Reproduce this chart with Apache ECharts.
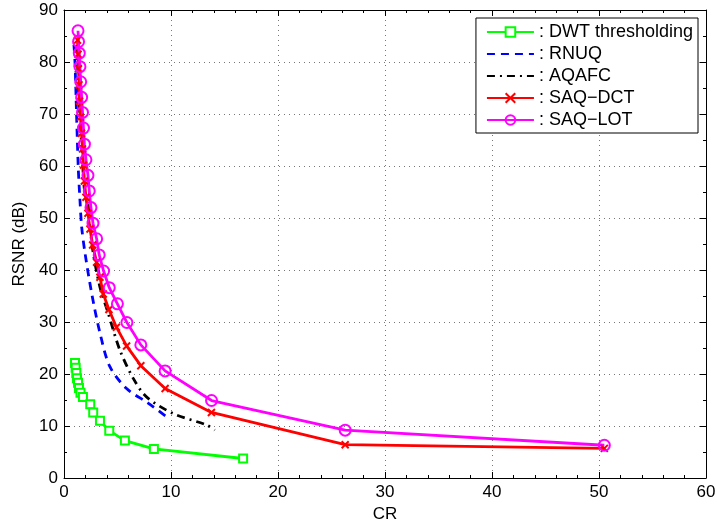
<!DOCTYPE html>
<html><head><meta charset="utf-8">
<script src="https://cdn.jsdelivr.net/npm/echarts@6/dist/echarts.min.js"></script>
<style>html,body{margin:0;padding:0;background:#fff}#c{width:717px;height:523px}</style>
</head><body><div id="c"></div>
<script>
var xTicks = [0, 10, 20, 30, 40, 50, 60];
var yTicks = [0, 10, 20, 30, 40, 50, 60, 70, 80, 90];
var seriesNames = [': DWT thresholding', ': RNUQ', ': AQAFC', ': SAQ\u2212DCT', ': SAQ\u2212LOT'];

var dwtX = [1.03, 1.09, 1.15, 1.21, 1.31, 1.40, 1.54, 1.77, 2.45, 2.73, 3.36, 4.23, 5.69, 8.40, 16.74];
var dwtY = [22.1, 21.2, 20.2, 19.2, 18.3, 17.3, 16.4, 15.6, 14.2, 12.6, 11.0, 9.1, 7.2, 5.6, 3.75];

var rnuqX = [0.93, 1.03, 1.17, 1.33, 1.49, 1.65, 1.96, 2.58, 3.36, 4.29, 5.85, 7.86, 9.58];
var rnuqY = [83.3, 79.8, 70.2, 59.8, 53.5, 48.3, 43.3, 35.6, 27.9, 21.4, 17.2, 14.4, 11.8];

var aqafcX = [1.21, 1.40, 1.68, 1.91, 2.27, 2.43, 2.73, 3.36, 4.13, 5.22, 6.46, 7.71, 10.2, 13.31, 14.09];
var aqafcY = [83.3, 72.7, 63.1, 55.4, 52.1, 48.3, 43.3, 36.7, 31.7, 24.6, 19.2, 15.6, 12.4, 10.2, 9.2];

var dctX = [1.26, 1.31, 1.35, 1.40, 1.45, 1.54, 1.63, 1.73, 1.82, 1.91, 2.05, 2.24, 2.43, 2.68, 3.05, 3.36, 3.67, 4.20, 4.90, 5.85, 7.18, 9.45, 13.78, 26.28, 50.5];
var dctY = [84.2, 81.5, 78.7, 75.6, 72.5, 69.4, 66.3, 63.3, 60.2, 57.1, 54.0, 50.9, 47.9, 44.8, 41.5, 38.6, 35.4, 32.4, 29.0, 25.4, 21.6, 17.2, 12.6, 6.4, 5.7];

var lotX = [1.31, 1.36, 1.43, 1.49, 1.56, 1.65, 1.73, 1.82, 1.91, 2.05, 2.24, 2.36, 2.52, 2.71, 3.05, 3.29, 3.70, 4.23, 4.99, 5.88, 7.18, 9.45, 13.79, 26.28, 50.5];
var lotY = [86.0, 83.9, 81.7, 79.1, 76.2, 73.2, 70.3, 67.3, 64.2, 61.2, 58.2, 55.2, 52.0, 49.0, 46.0, 42.9, 39.8, 36.6, 33.5, 29.9, 25.6, 20.6, 14.9, 9.2, 6.3];

function pairs(xs, ys) { return xs.map(function (x, i) { return [x, ys[i]]; }); }

var font = 'Liberation Sans, Arial, Helvetica, sans-serif';
var gridLine = { show: true, lineStyle: { color: '#777', width: 1, type: [1, 4] } };
var axFont = 17;

var chart = echarts.init(document.getElementById('c'), null, { renderer: 'canvas' });
chart.setOption({
  animation: false,
  backgroundColor: '#fff',
  grid: { left: 64, right: 11, top: 10, bottom: 45, show: false, containLabel: false, outerBoundsMode: 'none' },
  legend: {
    right: 19, top: 18, orient: 'vertical', align: 'left',
    backgroundColor: '#fff', borderColor: '#000', borderWidth: 1, borderRadius: 0,
    padding: [5, 5, 4, 10], itemGap: 4, itemWidth: 47, itemHeight: 12,
    textStyle: { fontFamily: font, fontSize: 18, color: '#000' },
    data: seriesNames
  },
  xAxis: [{
    type: 'value', min: 0, max: 60, interval: 10, position: 'bottom',
    name: 'CR', nameLocation: 'middle', nameGap: 25,
    nameTextStyle: { fontFamily: font, fontSize: axFont, color: '#000' },
    axisLine: { show: true, onZero: false, lineStyle: { color: '#000', width: 1 } },
    axisTick: { show: true, inside: true, length: 6, lineStyle: { color: '#000' } },
    minorTick: { show: true, splitNumber: 5, length: 3, lineStyle: { color: '#000' } },
    axisLabel: { fontFamily: font, fontSize: axFont, color: '#000', margin: 6,
      formatter: function (v) { return xTicks.indexOf(v) >= 0 ? String(v) : ''; } },
    splitLine: gridLine
  }, {
    type: 'value', min: 0, max: 60, interval: 10, position: 'top',
    axisLine: { show: true, onZero: false, lineStyle: { color: '#000', width: 1 } },
    axisTick: { show: true, inside: true, length: 6, lineStyle: { color: '#000' } },
    minorTick: { show: true, splitNumber: 5, length: 3, lineStyle: { color: '#000' } },
    axisLabel: { show: false }, splitLine: { show: false }
  }],
  yAxis: [{
    type: 'value', min: 0, max: 90, interval: 10, position: 'left',
    name: 'RSNR (dB)', nameLocation: 'middle', nameGap: 31, nameRotate: 90,
    nameTextStyle: { fontFamily: font, fontSize: axFont, color: '#000' },
    axisLine: { show: true, onZero: false, lineStyle: { color: '#000', width: 1 } },
    axisTick: { show: true, inside: true, length: 6, lineStyle: { color: '#000' } },
    minorTick: { show: true, splitNumber: 2, length: 3, lineStyle: { color: '#000' } },
    axisLabel: { fontFamily: font, fontSize: axFont, color: '#000', margin: 6,
      formatter: function (v) { return yTicks.indexOf(v) >= 0 ? String(v) : ''; } },
    splitLine: gridLine
  }, {
    type: 'value', min: 0, max: 90, interval: 10, position: 'right',
    axisLine: { show: true, onZero: false, lineStyle: { color: '#000', width: 1 } },
    axisTick: { show: true, inside: true, length: 6, lineStyle: { color: '#000' } },
    minorTick: { show: true, splitNumber: 2, length: 3, lineStyle: { color: '#000' } },
    axisLabel: { show: false }, splitLine: { show: false }
  }],
  series: [{
    name: seriesNames[0], type: 'line', data: pairs(dwtX, dwtY),
    symbol: 'rect', symbolSize: 8,
    lineStyle: { color: '#00ff00', width: 2.8 },
    itemStyle: { color: '#ffffff', borderColor: '#00ff00', borderWidth: 2 }
  }, {
    name: seriesNames[1], type: 'line', data: pairs(rnuqX, rnuqY), smooth: 0.3,
    symbol: 'none', showSymbol: false,
    lineStyle: { color: '#0000ff', width: 2.8, type: [8, 6] },
    itemStyle: { color: 'rgba(0,0,255,0)', opacity: 0 }
  }, {
    name: seriesNames[2], type: 'line', data: pairs(aqafcX, aqafcY), smooth: 0.3,
    symbol: 'none', showSymbol: false,
    lineStyle: { color: '#000000', width: 2.8, type: [8, 5, 2, 5] },
    itemStyle: { color: 'rgba(0,0,0,0)', opacity: 0 }
  }, {
    name: seriesNames[3], type: 'line', data: pairs(dctX, dctY),
    symbol: 'path://M0,0L10,10M10,0L0,10', symbolSize: 7,
    lineStyle: { color: '#ff0000', width: 2.8 },
    itemStyle: { color: '#ff0000', borderColor: '#ff0000', borderWidth: 2 }
  }, {
    name: seriesNames[4], type: 'line', data: pairs(lotX, lotY),
    symbol: 'circle', symbolSize: 11,
    lineStyle: { color: '#ff00ff', width: 2.8 },
    itemStyle: { color: 'rgba(255,255,255,0)', borderColor: '#ff00ff', borderWidth: 2 }
  }]
});
</script>
</body></html>
